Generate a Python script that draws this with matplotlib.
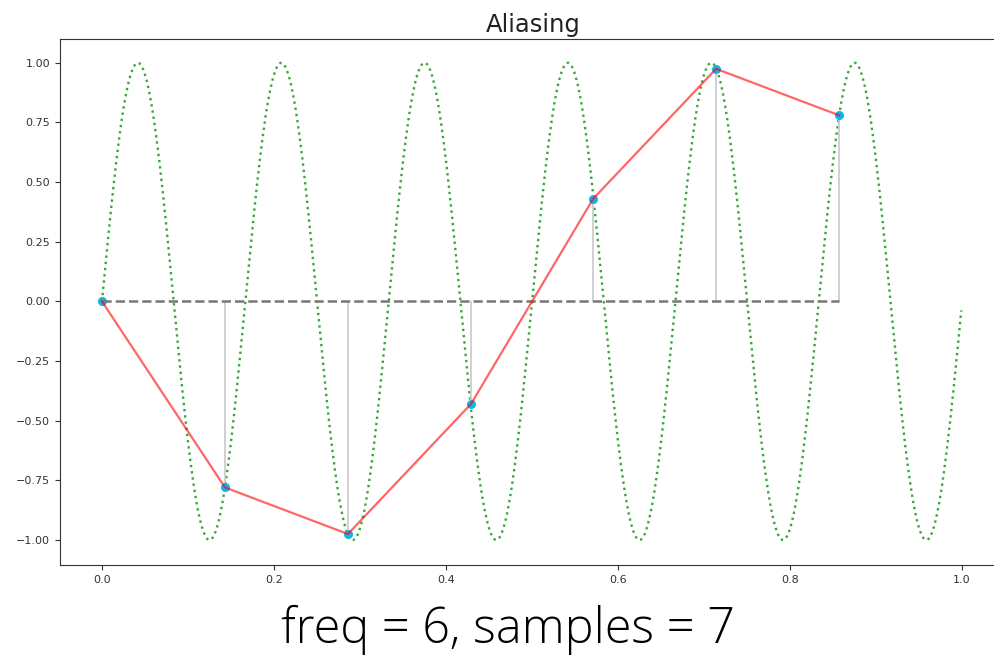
import numpy as np
import matplotlib
matplotlib.use("Agg")
import matplotlib.pyplot as plt

# signal and sampling settings shown in the caption
freq = 6
n_samples = 7

# sample times and values
sample_t = [0.0, 0.143, 0.286, 0.429, 0.571, 0.714, 0.857]
sample_y = [0.0, -0.78, -0.975, -0.43, 0.43, 0.975, 0.78]

# underlying continuous signal (freq = 6)
t = np.arange(0, 1, 0.001)
signal = np.sin(2 * np.pi * freq * t)

fig = plt.figure(figsize=(9.94, 6.56), dpi=100)
ax = fig.add_axes([60 / 994, 1 - 565 / 656, (1006 - 60) / 994, (565 - 39) / 656])

ax.plot(t, signal, ':', color='#3aa63a', linewidth=1.7)
markers, stems, base = ax.stem(sample_t, sample_y)
plt.setp(stems, color='#c8c8c8', linewidth=1.2)
plt.setp(markers, color='#12b4ea', markersize=5.5)
plt.setp(base, color='#777777', linestyle='--', linewidth=1.8)
ax.plot(sample_t, sample_y, color='red', alpha=0.6, linewidth=1.6)

ax.set_xlim(-0.0488, 1.051)
ax.set_ylim(-1.105, 1.10)
ax.set_xticks([0.0, 0.2, 0.4, 0.6, 0.8, 1.0])
ax.set_yticks([-1.0, -0.75, -0.5, -0.25, 0.0, 0.25, 0.5, 0.75, 1.0])
ax.tick_params(labelsize=8, colors='#333333')
for s in ax.spines.values():
    s.set_color('#333333')
ax.spines['right'].set_visible(False)
ax.set_title("Aliasing", fontsize=17.5, pad=5, color='#222222')

fig.text(0.511, 1 - 630 / 656, f"freq = {freq}, samples = {n_samples}",
         ha='center', va='center', fontsize=35, family='Open Sans', weight='light')

fig.savefig("out.png", dpi=100)
